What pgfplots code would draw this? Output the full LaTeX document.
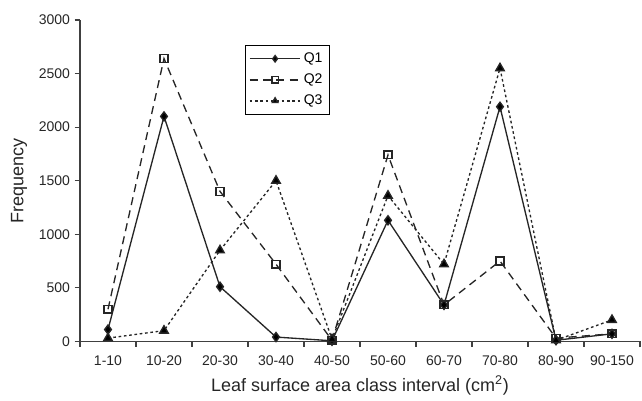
\documentclass[border=0pt]{standalone}
\usepackage{fontspec}
\setmainfont{Liberation Sans}
\usepackage{pgfplots}
\pgfplotsset{compat=1.18}
\begin{document}
\begin{tikzpicture}
\begin{axis}[
  scale only axis,
  width=420pt, height=241pt,
  xmin=-0.5, xmax=9.5, ymin=0, ymax=3000,
  axis x line=bottom, axis y line=left,
  axis line style={-, black!75, line width=0.9pt},
  xtick={0,...,9},
  xticklabels={1-10,10-20,20-30,30-40,40-50,50-60,60-70,70-80,80-90,90-150},
  major x tick style={draw=none},
  minor xtick={-0.5,0.5,...,9.5},
  minor x tick style={black!75, line width=0.9pt},
  minor tick length=4pt,
  ytick={0,500,...,3000},
  major tick length=4pt,
  y tick style={black!75, line width=0.9pt},
  xtick align=outside, ytick align=outside,
  tick label style={font=\fontsize{10.5}{12}\selectfont, text=black!85},
  xticklabel style={yshift=-3pt},
  /pgf/number format/assume math mode=true,
  scaled y ticks=false,
  yticklabel style={/pgf/number format/1000 sep={}},
  xlabel={Leaf surface area class interval (cm\textsuperscript{2})},
  ylabel={Frequency},
  label style={font=\fontsize{13.5}{15}\selectfont, text=black!85},
  xlabel style={yshift=-1pt},
  ylabel style={yshift=2pt},
  legend style={at={(0.294,0.922)}, anchor=north west, draw=black, line width=0.7pt,
    font=\fontsize{10.5}{12}\selectfont, row sep=3pt, inner xsep=3pt, inner ysep=3.5pt},
  legend cell align=left,
  legend image code/.code={\draw[#1] (0pt,0pt) -- (38pt,0pt); \draw[#1, mark repeat=2, mark phase=2, mark size=2.4pt] plot coordinates {(0pt,0pt) (19pt,0pt) (38pt,0pt)};},
  clip=false,
]
\addplot[black!85, line width=1pt, mark=diamond*, mark size=3.4pt, mark options={solid, fill=black}]
  coordinates {(0,110) (1,2100) (2,510) (3,40) (4,5) (5,1130) (6,340) (7,2190) (8,10) (9,70)};
\addlegendentry{Q1}
\addplot[black!85, line width=1pt, dash pattern=on 6pt off 4pt, mark=square, mark size=2.9pt, mark options={solid, fill=white}]
  coordinates {(0,300) (1,2640) (2,1400) (3,720) (4,10) (5,1740) (6,340) (7,750) (8,30) (9,70)};
\addlegendentry{Q2}
\addplot[black!85, line width=1pt, dash pattern=on 2pt off 2pt, mark=triangle*, mark size=3.7pt, mark options={solid, fill=black}]
  coordinates {(0,30) (1,100) (2,850) (3,1500) (4,20) (5,1360) (6,720) (7,2550) (8,10) (9,200)};
\addlegendentry{Q3}
\end{axis}
\pgfresetboundingbox
\path (-60pt,-44pt) rectangle (421.5pt,256pt);
\end{tikzpicture}
\end{document}
